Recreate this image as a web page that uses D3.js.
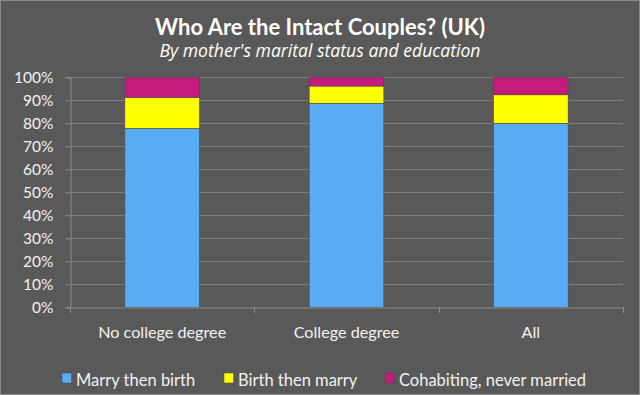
<!DOCTYPE html>
<html><head><meta charset="utf-8">
<script src="https://cdn.jsdelivr.net/npm/d3@7"></script>
<style>html,body{margin:0;padding:0;background:#595959;}svg{display:block;}</style>
</head><body>
<svg id="chart" width="640" height="395"></svg>
<script>
const categories = ["No college degree", "College degree", "All"];
const seriesNames = ["Marry then birth", "Birth then marry", "Cohabiting, never married"];
const marryThenBirth = [77.8, 88.7, 80.0];
const birthThenMarry = [13.5, 7.5, 12.4];
const cohabiting = [8.7, 3.8, 7.6];
const yTicks = [0, 10, 20, 30, 40, 50, 60, 70, 80, 90, 100];
const colors = ["#58acf4", "#ffff00", "#c51b7d"];

const svg = d3.select("#chart");
const W = 640, H = 395;
const font = "Lato, 'Open Sans', sans-serif";
const textCol = "#f2f2f2";

svg.append("rect").attr("x", 0.5).attr("y", 0.5).attr("width", W - 1).attr("height", H - 1)
  .attr("fill", "#595959").attr("stroke", "#8a8a8a").attr("stroke-width", 1);

const m = {left: 70, right: 623, top: 77.3, bottom: 307.3};
const x = d3.scaleBand().domain(categories).range([m.left, m.right]).paddingInner(0.595).paddingOuter(0.2975);
const y = d3.scaleLinear().domain([0, 100]).range([m.bottom, m.top]);

// gridlines
svg.append("g").selectAll("line").data(yTicks.filter(t => t > 0)).join("line")
  .attr("x1", m.left).attr("x2", m.right)
  .attr("y1", d => Math.round(y(d)) + 0.5).attr("y2", d => Math.round(y(d)) + 0.5)
  .attr("stroke", "#7c7c7c").attr("stroke-width", 1);

// y axis
const yAxis = svg.append("g").attr("transform", `translate(${m.left + 0.5},0)`)
  .call(d3.axisLeft(y).tickValues(yTicks).tickFormat(d => d + "%").tickSize(5).tickPadding(12));
yAxis.select(".domain").attr("stroke", "#8c8c8c");
yAxis.selectAll(".tick line").attr("stroke", "#8c8c8c");
yAxis.selectAll("text").attr("fill", textCol).style("font-family", font).style("font-size", "15.5px");

// stacked bars
const rows = categories.map((c, i) => ({cat: c, s0: marryThenBirth[i], s1: birthThenMarry[i], s2: cohabiting[i]}));
const stack = d3.stack().keys(["s0", "s1", "s2"])(rows);
const gBars = svg.append("g");
stack.forEach((layer, li) => {
  gBars.append("g").selectAll("rect").data(layer).join("rect")
    .attr("x", d => x(d.data.cat))
    .attr("width", x.bandwidth())
    .attr("y", d => y(d[1]))
    .attr("height", d => y(d[0]) - y(d[1]))
    .attr("fill", colors[li])
    .attr("stroke", "#4a4a4a").attr("stroke-width", 0.6);
});

// x axis
const xAxis = svg.append("g").attr("transform", `translate(0,${Math.round(m.bottom) + 0.5})`)
  .call(d3.axisBottom(x).tickSize(0).tickPadding(19));
xAxis.select(".domain").attr("stroke", "#8c8c8c");
xAxis.selectAll("text").attr("fill", textCol).style("font-family", font).style("font-size", "16.2px");
const bounds = [m.left, ...categories.map(c => x(c) + x.bandwidth() + x.step() * x.paddingInner() / 2)];
bounds[bounds.length - 1] = m.right;
svg.append("g").selectAll("line").data(bounds).join("line")
  .attr("x1", d => Math.round(d) + 0.5).attr("x2", d => Math.round(d) + 0.5)
  .attr("y1", Math.round(m.bottom)).attr("y2", Math.round(m.bottom) + 6)
  .attr("stroke", "#8c8c8c");

// title
svg.append("text").attr("x", 320).attr("y", 35).attr("text-anchor", "middle")
  .attr("fill", "#ffffff").style("font-family", font).style("font-weight", "bold").style("font-size", "22px")
  .text("Who Are the Intact Couples? (UK)");
svg.append("text").attr("x", 320).attr("y", 57).attr("text-anchor", "middle")
  .attr("fill", "#ffffff").style("font-family", "'Open Sans', sans-serif").style("font-style", "italic").style("font-size", "17.6px")
  .text("By mother's marital status and education");

// legend
const legX = [62, 224, 385];
const leg = svg.append("g");
seriesNames.forEach((n, i) => {
  leg.append("rect").attr("x", legX[i]).attr("y", 373).attr("width", 9.5).attr("height", 10)
    .attr("fill", colors[i]).attr("stroke", "#4a4a4a").attr("stroke-width", 0.5);
  leg.append("text").attr("x", legX[i] + 14).attr("y", 385.5)
    .attr("fill", textCol).style("font-family", font).style("font-size", "16.5px").text(n);
});
</script>
</body></html>
